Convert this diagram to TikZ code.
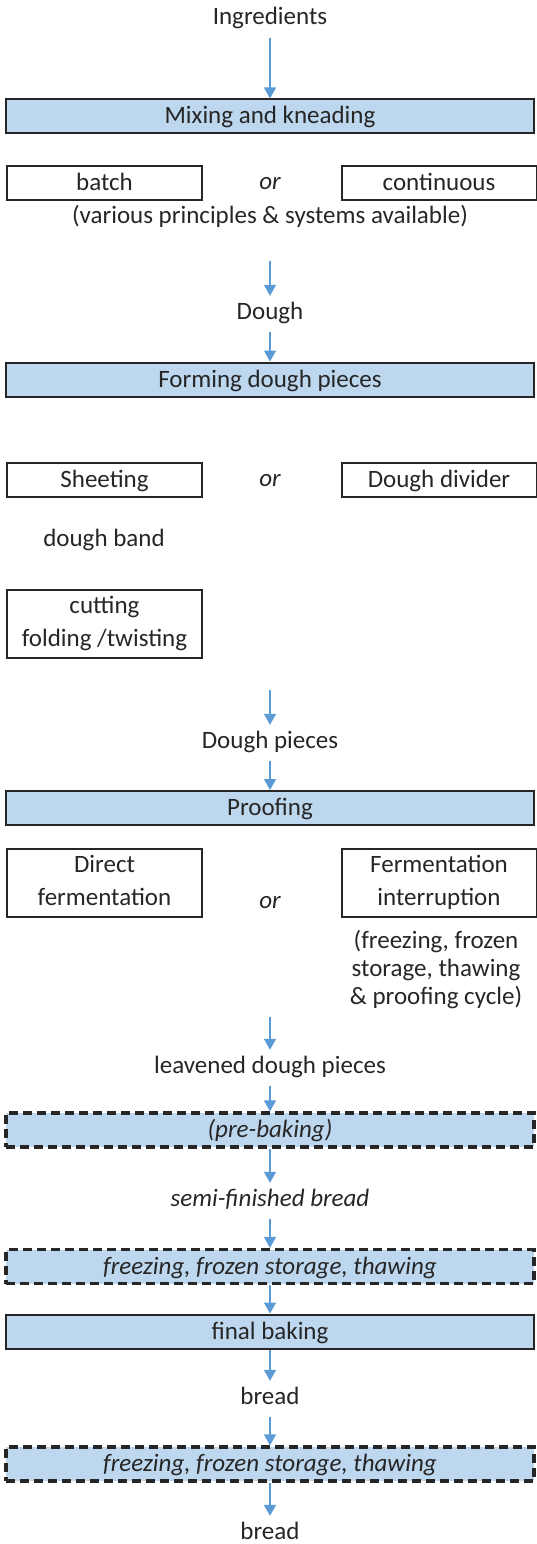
\documentclass[tikz,border=0pt]{standalone}
\usepackage{fontspec}
\setmainfont{Carlito}
\usetikzlibrary{arrows.meta}
\definecolor{stagefill}{HTML}{BDD7EE}
\definecolor{flowblue}{HTML}{5B9BD5}
\definecolor{ink}{HTML}{262626}

\begin{document}
\begin{tikzpicture}
    [
        x=1pt, y=-1pt,
        every node/.style={font=\fontsize{25}{33}\selectfont, text=ink, inner sep=0pt},
        stage/.style={rectangle, draw=ink, line width=2pt, fill=stagefill, minimum width=528pt, minimum height=34pt, text height=18pt, text depth=3pt},
        optstage/.style={stage, line width=3.2pt, dash pattern=on 9pt off 5pt, font=\fontsize{25}{33}\selectfont\itshape},
        box/.style={rectangle, draw=ink, line width=2pt, minimum width=195pt, align=center},
        choice/.style={box, minimum height=34pt, text height=18pt, text depth=3pt},
        pair/.style={box, minimum height=68pt, execute at begin node={\rule{0pt}{17pt}}, execute at end node={\rule[-5pt]{0pt}{5pt}}},
        term/.style={inner xsep=2pt, inner ysep=7pt, text height=16pt, text depth=6pt},
        flow/.style={draw=flowblue, line width=1.3pt, -{Triangle[width=12pt, length=11pt]}},
    ]
    \useasboundingbox (0, 0) rectangle (537, 1544);

    % mixing
    \node (ingr) at (270, 20) [term] {Ingredients};
    \node (mix) at (270, 116.5) [stage] {Mixing and kneading};
    \node (batch) at (104.5, 183) [choice] {batch};
    \node (or1) at (270, 184) [term] {\itshape or};
    \node (cont) at (439, 183) [choice] {continuous};
    \node (sys) at (270, 218) [term] {(various principles \& systems available)};
    \coordinate (a1) at (270, 261);
    \node (dough) at (270, 314) [term] {Dough};

    % forming
    \node (form) at (270, 379.5) [stage] {Forming dough pieces};
    \node (sheet) at (104.5, 480) [choice] {Sheeting};
    \node (or2) at (270, 481) [term] {\itshape or};
    \node (divider) at (439, 480) [choice] {Dough divider};
    \node (band) at (104, 541) [term] {dough band};
    \node (cut) at (104.5, 623.5) [pair] {cutting\\folding /twisting};
    \coordinate (a2) at (270, 690);
    \node (pieces) at (270, 743) [term] {Dough pieces};

    % proofing
    \node (proof) at (270, 808) [stage] {Proofing};
    \node (direct) at (104.5, 883) [pair] {Direct\\fermentation};
    \node (or3) at (270, 903) [term] {\itshape or};
    \node (interrupt) at (439, 883) [pair] {Fermentation\\interruption};
    \node (cycle) at (436, 969) [align=center, font=\fontsize{25}{28}\selectfont] {(freezing, frozen\\storage, thawing\\\& proofing cycle)};
    \coordinate (a3) at (270, 1017);
    \node (leavened) at (270, 1068) [term] {leavened dough pieces};

    % baking
    \node (prebake) at (270, 1130) [optstage] {(pre-baking)};
    \node (semi) at (270, 1201) [term] {\itshape semi-finished bread};
    \node (freeze1) at (270, 1266.5) [optstage] {freezing, frozen storage, thawing};
    \node (final) at (270, 1331.5) [stage] {final baking};
    \node (bread1) at (270, 1399) [term] {bread};
    \node (freeze2) at (270, 1464) [optstage] {freezing, frozen storage, thawing};
    \node (bread2) at (270, 1534) [term] {bread};

    \draw[flow] (ingr) -- (mix);
    \draw[flow] (a1) -- (dough);
    \draw[flow] (dough) -- (form);
    \draw[flow] (a2) -- (pieces);
    \draw[flow] (pieces) -- (proof);
    \draw[flow] (a3) -- (leavened);
    \draw[flow] (leavened) -- (prebake);
    \draw[flow] (prebake) -- (semi);
    \draw[flow] (semi) -- (freeze1);
    \draw[flow] (freeze1) -- (final);
    \draw[flow] (final) -- (bread1);
    \draw[flow] (bread1) -- (freeze2);
    \draw[flow] (freeze2) -- (bread2);
\end{tikzpicture}
\end{document}
